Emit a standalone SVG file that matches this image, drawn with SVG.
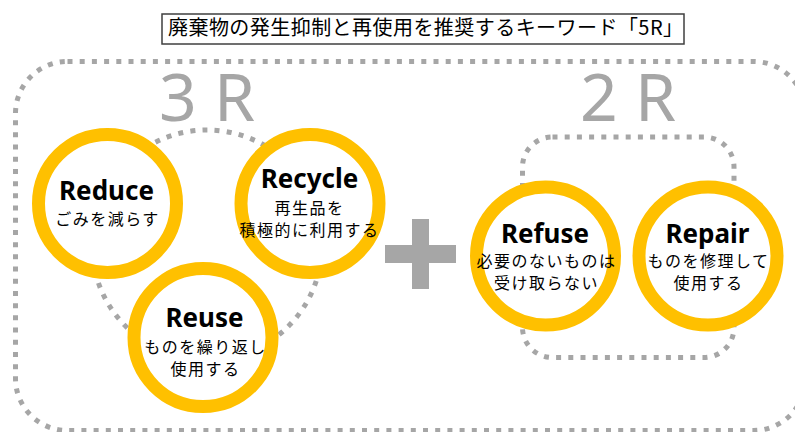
<svg xmlns="http://www.w3.org/2000/svg" width="795" height="432" viewBox="0 0 795 432">
<style>
.dot{fill:none;stroke:#A6A6A6;stroke-width:5;stroke-dasharray:5 7.2}
.ring{fill:#FFFFFF;stroke:#FFC000;stroke-width:13}
.en{font-family:"Noto Sans","Liberation Sans",sans-serif;font-weight:bold;font-size:26px;fill:#000;text-anchor:middle}
.jp{font-family:"Noto Sans CJK JP","Noto Sans",sans-serif;font-size:16px;fill:#000;text-anchor:middle;letter-spacing:1.5px}
.big{font-family:"Noto Sans","Liberation Sans",sans-serif;font-size:66px;fill:#A6A6A6}
</style>
<rect width="795" height="432" fill="#FFFFFF"/>
<g id="title">
<rect x="162" y="14" width="522" height="30" fill="#FFFFFF" stroke="#3F3F3F" stroke-width="1.5"/>
<text x="168" y="35" font-family="Noto Sans CJK JP, Noto Sans, sans-serif" font-size="20" letter-spacing="0.45" fill="#000">廃棄物の発生抑制と再使用を推奨するキーワード「5R」</text>
</g>
<g id="connectors">
<rect class="dot" x="15.5" y="61.5" width="790" height="369" rx="52"/>
<circle class="dot" cx="207" cy="245" r="115"/>
<rect class="dot" x="522.5" y="137" width="211.5" height="220.5" rx="30"/>
</g>
<g id="label-3R"><text class="big" x="159" y="121">3 R</text></g>
<g id="label-2R"><text class="big" x="580" y="121">2 R</text></g>
<g id="reduce">
<circle class="ring" cx="107.5" cy="203.5" r="69"/>
<text class="en" x="106.5" y="200">Reduce</text>
<text class="jp" x="107.5" y="225">ごみを減らす</text>
</g>
<g id="recycle">
<circle class="ring" cx="310" cy="203.5" r="69"/>
<text class="en" x="309.5" y="188">Recycle</text>
<text class="jp" x="309.5" y="214">再生品を</text>
<text class="jp" x="309.5" y="236">積極的に利用する</text>
</g>
<g id="reuse">
<circle class="ring" cx="203" cy="337.5" r="69"/>
<text class="en" x="204.5" y="327">Reuse</text>
<text class="jp" x="205.5" y="353">ものを繰り返し</text>
<text class="jp" x="205.5" y="375">使用する</text>
</g>
<g id="plus">
<rect x="412" y="219" width="17" height="70" fill="#A6A6A6"/>
<rect x="385" y="245" width="71" height="18" fill="#A6A6A6"/>
</g>
<g id="refuse">
<circle class="ring" cx="545.5" cy="256" r="69"/>
<text class="en" x="545" y="243">Refuse</text>
<text class="jp" x="546.5" y="267">必要のないものは</text>
<text class="jp" x="546.5" y="289">受け取らない</text>
</g>
<g id="repair">
<circle class="ring" cx="708" cy="256" r="69"/>
<text class="en" x="707.5" y="243">Repair</text>
<text class="jp" x="708.5" y="267">ものを修理して</text>
<text class="jp" x="708.5" y="289">使用する</text>
</g>
</svg>
